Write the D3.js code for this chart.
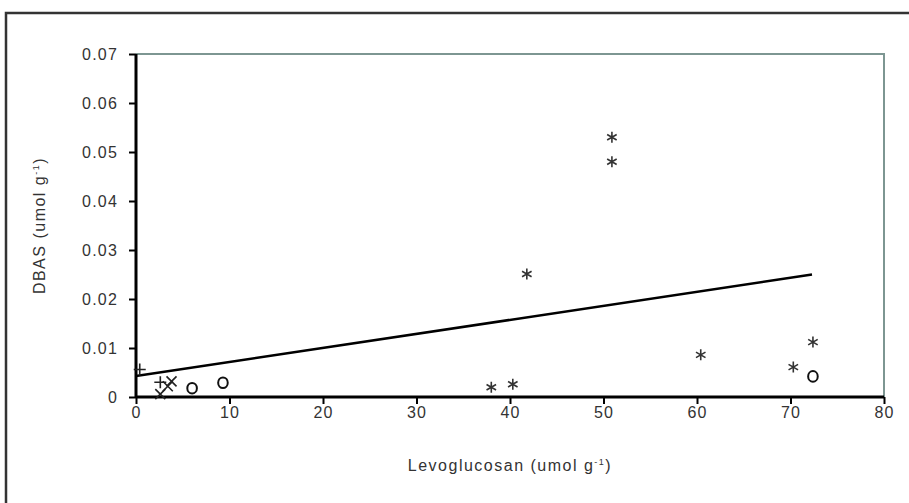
<!DOCTYPE html>
<html>
<head>
<meta charset="utf-8">
<script src="https://cdn.jsdelivr.net/npm/d3@7"></script>
<style>
  body { margin: 0; background: #fff; }
  text { font-family: "Liberation Sans", Arial, sans-serif; fill: #333; }
</style>
</head>
<body>
<script>
// values
var xTicks = [0, 10, 20, 30, 40, 50, 60, 70, 80];
var yTicks = [0, 0.01, 0.02, 0.03, 0.04, 0.05, 0.06, 0.07];

var starX = [50.9, 50.9, 41.8, 38.0, 40.3, 60.4, 70.3, 72.4];
var starY = [0.0530, 0.0480, 0.0251, 0.0020, 0.0026, 0.0086, 0.0061, 0.0112];

var circleX = [6.0, 9.3, 72.4];
var circleY = [0.0018, 0.0029, 0.0042];

var plusX = [0.4, 2.6];
var plusY = [0.0056, 0.0030];

var crossX = [2.6, 3.4, 3.8];
var crossY = [0.0006, 0.0022, 0.0032];

var fitX = [0, 72.3];
var fitIntercept = 0.0043, fitSlope = 0.000286;

var W = 909, H = 503;
var margin = { top: 54, right: 25, bottom: 106, left: 136 },
    width = W - margin.left - margin.right,
    height = H - margin.top - margin.bottom;

var svg = d3.select('body').append('svg')
  .attr('width', W)
  .attr('height', H);

// outer frame (cut off on the right and bottom)
svg.append('rect')
  .attr('x', 6).attr('y', 13)
  .attr('width', 1000).attr('height', 1000)
  .attr('fill', 'none')
  .attr('stroke', '#333')
  .attr('stroke-width', 2.5);

var g = svg.append('g')
  .attr('transform', 'translate(' + margin.left + ',' + margin.top + ')');

var x = d3.scaleLinear().domain([0, 80]).range([0, width]);
var y = d3.scaleLinear().domain([0, 0.07]).range([height, 0]);

// plot area top/right border
g.append('path')
  .attr('d', 'M0,0H' + width + 'V' + height)
  .attr('fill', 'none')
  .attr('stroke', '#7d9692')
  .attr('stroke-width', 2);

var xAxis = g.append('g')
  .attr('transform', 'translate(0,' + height + ')')
  .call(d3.axisBottom(x).tickValues(xTicks).tickSize(7).tickPadding(3).tickFormat(d3.format('d')));

var yAxis = g.append('g')
  .call(d3.axisLeft(y).tickValues(yTicks).tickSize(7).tickPadding(11)
    .tickFormat(function(d) { return d === 0 ? '0' : d3.format('.2f')(d); }));

[xAxis, yAxis].forEach(function(a) {
  a.select('.domain').attr('stroke', '#000').attr('stroke-width', 3);
  a.selectAll('.tick line').attr('stroke', '#000').attr('stroke-width', 2);
  a.selectAll('.tick text')
    .style('font-size', '16px')
    .style('letter-spacing', '1.2px')
    .attr('fill', '#333');
});
yAxis.select('.domain').attr('d', 'M0,' + height + 'V0');
xAxis.select('.domain').attr('d', 'M0,0H' + width);

// axis titles
var xt = svg.append('text')
  .attr('x', margin.left + width / 2)
  .attr('y', 471)
  .attr('text-anchor', 'middle')
  .style('font-size', '16px')
  .style('letter-spacing', '1.5px');
xt.append('tspan').text('Levoglucosan (umol g');
xt.append('tspan').attr('dy', -6).style('font-size', '9px').text('-1');
xt.append('tspan').attr('dy', 6).text(')');

var yt = svg.append('text')
  .attr('transform', 'translate(45,' + (margin.top + height / 2) + ') rotate(-90)')
  .attr('text-anchor', 'middle')
  .style('font-size', '16px')
  .style('letter-spacing', '1.5px');
yt.append('tspan').text('DBAS (umol g');
yt.append('tspan').attr('dy', -6).style('font-size', '9px').text('-1');
yt.append('tspan').attr('dy', 6).text(')');

// regression line
var fitLine = d3.line()
  .x(function(d) { return x(d); })
  .y(function(d) { return y(fitIntercept + fitSlope * d); });

g.append('path')
  .datum(fitX)
  .attr('d', fitLine)
  .attr('fill', 'none')
  .attr('stroke', '#000')
  .attr('stroke-width', 2.5);

// markers
var starPath = function(r) {
  var p = 'M0,' + (-r) + 'V' + r;
  [30, 150].forEach(function(a) {
    var dx = r * Math.cos(a * Math.PI / 180), dy = r * Math.sin(a * Math.PI / 180);
    p += 'M' + (-dx) + ',' + (-dy) + 'L' + dx + ',' + dy;
  });
  return p;
};

g.selectAll('.star')
  .data(starX)
  .enter().append('path')
  .attr('class', 'star')
  .attr('transform', function(d, i) { return 'translate(' + x(d) + ',' + y(starY[i]) + ')'; })
  .attr('d', starPath(5.5))
  .attr('stroke', '#333')
  .attr('stroke-width', 1.6)
  .attr('fill', 'none');

g.selectAll('.circ')
  .data(circleX)
  .enter().append('ellipse')
  .attr('class', 'circ')
  .attr('cx', function(d) { return x(d); })
  .attr('cy', function(d, i) { return y(circleY[i]); })
  .attr('rx', 4.8)
  .attr('ry', 5.3)
  .attr('stroke', '#111')
  .attr('stroke-width', 2)
  .attr('fill', 'none');

g.selectAll('.plus')
  .data(plusX)
  .enter().append('path')
  .attr('class', 'plus')
  .attr('transform', function(d, i) { return 'translate(' + x(d) + ',' + y(plusY[i]) + ')'; })
  .attr('d', 'M-6,0H6M0,-6V6')
  .attr('stroke', '#222')
  .attr('stroke-width', 1.6);

g.selectAll('.cross')
  .data(crossX)
  .enter().append('path')
  .attr('class', 'cross')
  .attr('transform', function(d, i) { return 'translate(' + x(d) + ',' + y(crossY[i]) + ')'; })
  .attr('d', 'M-5,-5L5,5M5,-5L-5,5')
  .attr('stroke', '#222')
  .attr('stroke-width', 1.6);
</script>
</body>
</html>
